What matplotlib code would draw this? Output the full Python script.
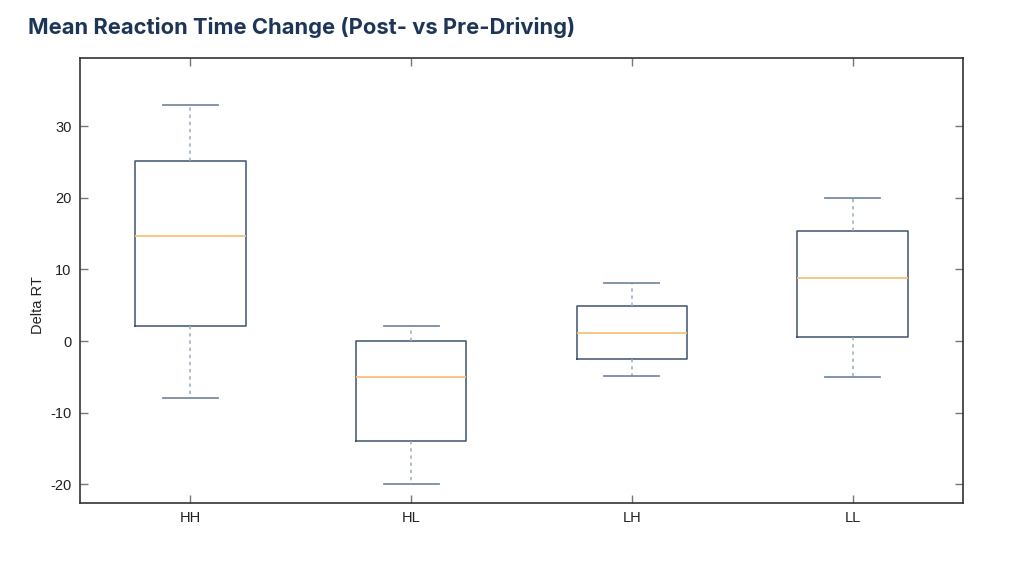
import matplotlib
matplotlib.use("Agg")
import matplotlib.pyplot as plt

groups = ['HH', 'HL', 'LH', 'LL']
whisker_low = [-8.0, -20.0, -4.9, -5.0]
q1 = [2.1, -14.0, -2.5, 0.6]
median = [14.6, -5.0, 1.1, 8.8]
q3 = [25.1, 0.0, 4.9, 15.4]
whisker_high = [33.0, 2.1, 8.1, 20.0]

stats = []
for i, g in enumerate(groups):
    stats.append({'label': g, 'whislo': whisker_low[i], 'q1': q1[i], 'med': median[i],
                  'q3': q3[i], 'whishi': whisker_high[i], 'fliers': []})

plt.rcParams['font.family'] = ['Liberation Sans', 'DejaVu Sans']
plt.rcParams['axes.unicode_minus'] = False

fig = plt.figure(figsize=(10.24, 5.63), dpi=100)
ax = fig.add_axes([80 / 1024, 1 - 503 / 563, (963 - 80) / 1024, (503 - 58) / 563])

ax.bxp(stats, widths=0.5, showfliers=False,
       boxprops=dict(color='#3d5470', linewidth=1.1),
       whiskerprops=dict(color='#9aabbd', linewidth=1.1, linestyle=(0, (2.2, 2.5))),
       capprops=dict(color='#7a8ca3', linewidth=1.3),
       medianprops=dict(color='#f8c27a', linewidth=1.3))

ax.set_xlim(0.5, 4.5)
ax.set_ylim(-22.6, 39.5)
ax.set_yticks([-20, -10, 0, 10, 20, 30])
ax.set_ylabel('Delta RT', fontsize=10.5, color='#222222')
ax.yaxis.set_label_coords(-0.040, 0.445)

ax.tick_params(direction='in', top=True, right=True, length=6, width=1,
               color='#777777', labelsize=10.5, labelcolor='#222222', pad=6)
for s in ax.spines.values():
    s.set_color('#333333')
    s.set_linewidth(1.2)

fig.text(28 / 1024, 1 - 27 / 563, 'Mean Reaction Time Change (Post- vs Pre-Driving)',
         fontsize=15.8, fontweight='bold', color='#1d3557', va='center', ha='left',
         family=['Inter', 'DejaVu Sans'])

fig.savefig('out.png', dpi=100)
